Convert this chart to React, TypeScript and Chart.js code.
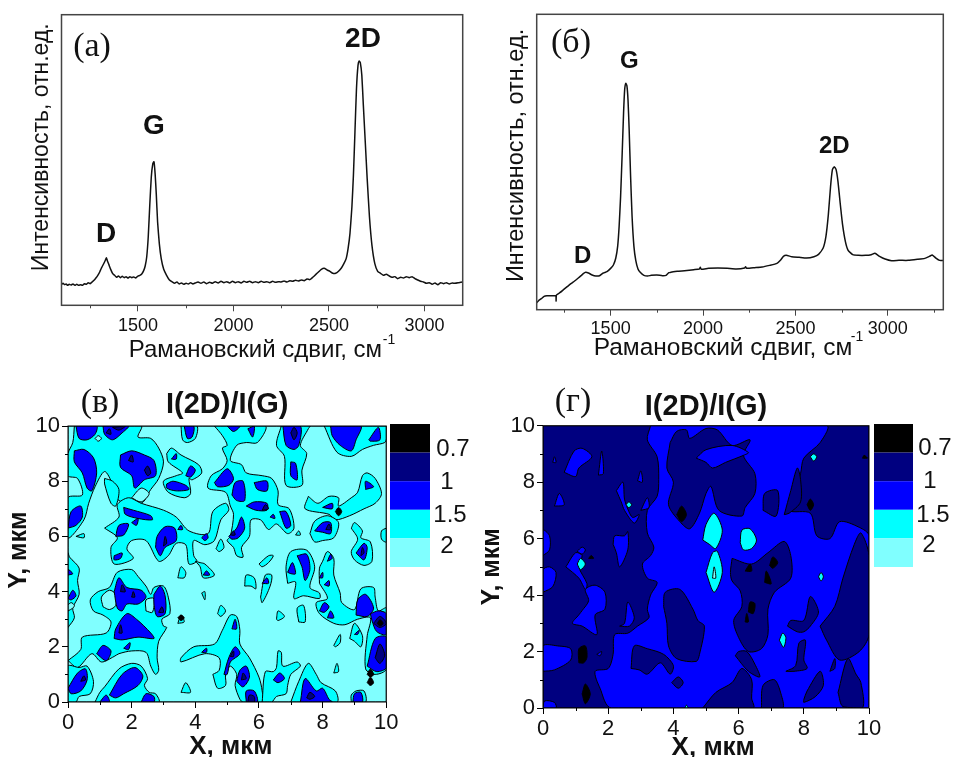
import React, { useEffect, useRef } from "react";
import { Chart, registerables } from "chart.js";

Chart.register(...registerables);

type Pt = [number, number];
const SANS = "'Liberation Sans', Arial, sans-serif";
const SERIF = "'Liberation Serif', 'Times New Roman', serif";

// ---------- spectra: [Raman shift, intensity] ----------
const spectrumA: Pt[] = [
  [1100,63],[1108,66],[1116,62],[1124,64],[1132,60],[1140,63],[1150,61],[1160,64],[1170,60],[1180,63],[1190,60],[1200,62],[1210,60],[1220,65],[1230,63],[1240,68],[1250,65],[1260,70],[1270,75],[1280,82],[1290,90],[1300,100],[1310,113],[1320,124],[1330,136],[1335,143],[1340,134],[1348,122],[1358,107],[1368,95],[1378,90],[1388,84],[1398,88],[1408,83],[1418,87],[1428,83],[1438,86],[1448,82],[1458,86],[1468,83],[1478,85],[1488,82],[1498,87],[1510,90],[1520,94],[1530,104],[1538,118],[1546,145],[1554,205],[1562,300],[1570,385],[1578,425],[1584,431],[1590,395],[1596,335],[1603,250],[1612,185],[1622,140],[1635,108],[1650,90],[1665,76],[1680,70],[1692,66],[1704,70],[1716,64],[1728,67],[1740,63],[1752,66],[1764,64],[1776,68],[1788,64],[1800,67],[1815,70],[1830,66],[1845,70],[1860,65],[1875,69],[1890,66],[1905,71],[1920,67],[1935,72],[1950,68],[1965,71],[1980,67],[1995,72],[2010,68],[2025,71],[2040,67],[2055,72],[2070,69],[2085,72],[2100,68],[2115,71],[2130,68],[2145,72],[2160,69],[2175,71],[2190,68],[2205,72],[2220,69],[2235,71],[2250,70],[2265,73],[2280,70],[2295,74],[2310,72],[2325,75],[2340,73],[2355,76],[2370,74],[2385,79],[2400,77],[2415,84],[2430,92],[2445,100],[2460,108],[2475,111],[2490,106],[2505,102],[2520,96],[2535,96],[2550,102],[2565,112],[2578,125],[2590,140],[2600,170],[2610,216],[2620,295],[2628,390],[2636,520],[2644,650],[2652,720],[2658,733],[2664,728],[2672,690],[2680,600],[2690,490],[2700,380],[2712,265],[2725,180],[2740,125],[2755,102],[2770,96],[2785,90],[2800,93],[2815,88],[2830,84],[2845,86],[2860,80],[2875,84],[2890,82],[2905,86],[2920,83],[2935,86],[2950,80],[2965,76],[2980,72],[2995,70],[3010,66],[3025,68],[3040,63],[3055,67],[3070,62],[3085,68],[3100,65],[3115,68],[3130,64],[3145,67],[3160,66],[3180,68],[3200,70],
];
const spectrumB: Pt[] = [
  [1100,21],[1110,27],[1125,33],[1140,40],[1155,42],[1175,42],[1195,42],[1204,42],[1205,26],[1207,44],[1225,51],[1245,60],[1265,69],[1285,78],[1305,86],[1325,95],[1340,102],[1352,108],[1365,112],[1380,110],[1400,104],[1420,101],[1440,102],[1460,110],[1480,114],[1500,124],[1515,134],[1528,155],[1538,190],[1546,250],[1554,340],[1562,460],[1570,590],[1576,660],[1582,679],[1588,672],[1594,630],[1600,545],[1608,400],[1616,280],[1626,190],[1636,148],[1648,122],[1660,112],[1680,103],[1700,101],[1720,103],[1750,104],[1780,102],[1800,103],[1815,111],[1825,112],[1860,115],[1900,117],[1950,120],[1980,122],[1985,127],[1990,121],[2030,124],[2080,125],[2130,124],[2180,122],[2225,125],[2230,129],[2236,124],[2280,126],[2320,128],[2360,133],[2400,139],[2420,149],[2435,160],[2450,163],[2480,159],[2520,157],[2560,155],[2600,159],[2625,166],[2650,185],[2665,220],[2678,285],[2690,370],[2700,420],[2710,429],[2720,420],[2730,385],[2742,320],[2755,255],[2770,205],[2785,178],[2810,165],[2840,163],[2880,163],[2910,165],[2930,169],[2955,160],[2985,152],[3020,147],[3060,148],[3110,148],[3160,151],[3200,154],[3225,160],[3240,164],[3260,155],[3280,148],[3300,148],
];

const ramanTicks = [1500, 2000, 2500, 3000];
const mapTicks = [0, 2, 4, 6, 8, 10];
const minorRaman = [1250, 1750, 2250, 2750];
const minorMap = [1, 3, 5, 7, 9];

// ---------- contour regions, panel "в" (x, y in µm) ----------
const cyanV: Pt[][] = [
  [[0.2,10],[2.3,10],[2.2,9.6],[2.6,9.55],[2.85,9.2],[3,8.7],[2.85,8.1],[2.6,7.7],[2.3,7.2],[1.6,7.3],[1.4,7.9],[1.15,8.35],[0.85,7.8],[0.65,7.2],[0.5,6.6],[0,5.95],[0,7.4],[0.45,7.5],[0.3,8.1],[0,8.2],[0,9],[0.15,9.4]],
  [[1.15,6.3],[1.6,6.7],[1.55,7.15],[1.9,7.4],[2.3,7.2],[3,6.95],[3.4,6.7],[3.8,6.2],[4.4,6.1],[4.55,6.9],[4.95,7.2],[5.05,6.95],[4.8,6.6],[4.6,5.85],[4.3,5.7],[3.95,5.85],[3.95,5.3],[4.05,5.1],[3.8,5],[3.7,5.7],[3.4,5.75],[3.15,5.3],[2.85,5.1],[2.45,5.85],[2,5.85],[1.85,5.55],[2.05,5.2],[1.45,5],[1.35,5.6],[1.55,5.95]],
  [[0,1.5],[0.4,1.9],[0.45,2.35],[1.2,2.5],[1.35,2.9],[1.1,3.15],[0.8,3.3],[0.7,3.7],[0.95,4],[1.3,4.15],[1.55,4.7],[2,4.8],[2.2,4.55],[2.45,4.2],[2.6,3.9],[2.7,4.15],[3,4.2],[3.15,3.8],[3.2,3.2],[2.95,3],[3,2.75],[3.1,2.7],[2.85,2.2],[2.8,1.6],[2.85,1.15],[2.75,1],[2.6,1.3],[2.45,1.8],[2,1.85],[1.6,1.75],[1.45,1.65],[1.05,1.45],[0.75,1.75],[0.3,1.25]],
  [[0,2.7],[0.2,3.05],[0.15,3.4],[0.35,3.9],[0.3,4.4],[0.35,4.85],[0.05,5.25],[0,5.4]],
  [[0,0],[0,1.3],[0.35,1.25],[0.6,1.3],[0.8,0.75],[0.7,0.3],[0.35,0.2],[0.25,0]],
  [[0.85,0],[1,0.35],[1.15,0.55],[1.6,1.2],[2,1.4],[2.3,1.3],[2.5,0.85],[2.4,0.6],[2.55,0.35],[2.75,0.3],[2.85,0]],
  [[4.6,10],[4.85,9.65],[5,9.3],[4.85,9.2],[5,8.75],[4.85,8.45],[4.5,8.2],[4.4,7.75],[4.95,7.6],[5.1,7.1],[5.2,6.8],[5.1,6],[5,5.85],[5.2,5.6],[5.3,5.3],[5.5,5.25],[5.45,5.6],[5.7,6],[5.75,6.6],[6.05,6.6],[6.3,6.25],[6.55,6.45],[6.9,6.1],[7.1,6.3],[6.95,7],[6.6,7.15],[6.6,7.65],[6.4,8.1],[6.1,8.2],[5.6,8.3],[5.45,8.6],[5.1,8.75],[5.3,9.3],[5.6,9.4],[5.95,9.4],[6.2,10]],
  [[6.7,10],[6.55,9.3],[6.8,8.9],[6.85,7.85],[7.35,7.85],[7.35,8.4],[7.5,9],[7.3,9.3],[7.55,9.9],[7.6,10]],
  [[8.05,10],[8.45,9.05],[8.9,8.9],[9.25,9.15],[9.6,9.3],[9.95,9.4],[10,9.55],[10,10]],
  [[7.55,7.45],[7.45,7],[8.2,6.8],[8.4,6.6],[8.85,6.75],[9.3,7],[9.65,7.2],[9.85,7.55],[9.65,8.1],[9.4,8.3],[9.25,8.2],[9.1,7.6],[8.9,7.4],[8.5,7.1],[8.5,7.4],[8.2,7.45],[7.85,7.2]],
  [[7.6,6.1],[7.75,6.55],[8.15,6.75],[8.5,6.5],[8.35,5.95],[8,5.85],[7.75,5.8]],
  [[8.9,6.3],[9,6.5],[9.25,6.2],[9.2,5.95],[9.5,5.8],[9.55,5.1],[9.3,4.95],[9,5.15],[8.9,5.45],[9.1,5.9]],
  [[6.9,4.3],[6.85,4.9],[7,5.45],[7.5,5.5],[7.75,4.9],[7.6,4.15],[7.9,3.95],[7.9,3.75],[7.4,3.85],[7.1,3.75],[7.15,4.35]],
  [[7.9,4.3],[7.9,4.85],[8,5.1],[8.15,5.45],[8.35,5.2],[8.35,4.6],[8.55,3.95],[8.6,3.6],[9,3.35],[9.2,4.1],[9.6,4.15],[9.65,3.8],[9.75,3.3],[10,3.4],[10,1.2],[9.65,1],[9.35,1.2],[9.4,2.4],[9.5,3.05],[9.1,3],[8.7,2.8],[8.35,2.85],[7.9,3.2],[7.8,3.6],[8.15,3.75]],
  [[4.55,1],[4.7,0.5],[4.95,0.6],[4.95,1],[5.1,1.3],[5.3,1],[5.25,0.6],[5.4,0.1],[5.5,0],[6.1,0],[6.1,0.4],[6,0.9],[5.7,1.6],[5.4,2.1],[5.4,2.6],[5.3,3.1],[5.1,3.15],[4.85,2.6],[4.6,2.1],[3.95,2],[3.55,1.6],[3.55,1.45],[4.3,1.75],[4.75,1.6],[4.75,1.15]],
  [[6.1,0],[6.2,1.1],[6.45,1.1],[6.55,1.25],[6.6,1.85],[6.7,1.8],[6.75,1.3],[7.2,1.45],[7.3,1.3],[7,1],[6.9,0.6],[6.85,0.3],[6.55,0.2],[6.4,0]],
  [[7,0],[7.25,0.75],[7.55,1.4],[7.8,1],[7.95,0.7],[8.4,0.4],[8.45,0]],
  [[8.9,0],[8.9,0.25],[9.05,0.4],[9.3,0.4],[9.35,0]],
  [[5.55,4.2],[5.6,4.6],[5.85,4.5],[5.9,4.1],[5.75,4.2]],
  [[6.05,3.8],[6.2,4.6],[6.4,4.6],[6.35,4.2],[6.1,3.6]],
  [[6,5],[6.3,5.3],[6.45,5.3],[6.3,5.05],[6.1,4.9]],
  [[4.2,3.95],[4.3,4],[4.3,3.7]],
  [[4.7,3.2],[4.8,3.5],[4.95,3.3],[4.8,3.1]],
  [[6.55,3],[6.6,3.3],[6.8,3.1],[6.6,2.95]],
  [[7.25,2.9],[7.2,3.4],[7.4,3.5],[7.45,2.9]],
  [[8.85,2.3],[9,2.85],[9.25,2.4],[9.2,2],[9,2.2]],
  [[8.35,2.05],[8.55,2.45],[8.55,2.15],[8.4,2]],
  [[8.35,1.05],[8.45,1.4],[8.5,1.1]],
  [[3.55,0.35],[3.7,0.7],[3.85,0.35]],
  [[3.45,2.85],[3.55,3.15],[3.65,2.9]],
  [[4.65,5.55],[4.8,5.9],[4.9,5.6],[4.75,5.45]],
  [[7.15,6.05],[7.25,6.2],[7.3,6.05]],
  [[0.25,6],[0.5,6.1],[0.5,5.95]],
  [[3.1,9],[3.25,9.2],[3.55,8.95],[4.1,8.6],[4.2,8.3],[3.9,8.05],[3.8,8.1],[3.85,7.55],[3.65,7.4],[3.15,7.6],[3,8],[3.4,8.2],[3.6,8.3],[3.15,8.7]],
  [[3.55,10],[3.6,9.5],[3.75,9.4],[4,9.55],[4.05,10]],
  [[1.15,8.1],[1.15,7.9],[1.35,7.2],[1.5,7.1],[1.6,7.7],[1.4,8]],
  [[3.45,4.5],[3.55,4.9],[3.7,4.7],[3.65,4.5]],
  [[4,5.1],[4.15,5.05],[4.3,5],[4.6,4.6],[4.25,4.5],[4.15,4.9]],
  [[10,6.3],[9.85,6.2],[9.85,5.9],[10,5.8]],
];
const holesV: Pt[][] = [
  [[1.1,3.45],[1.05,3.8],[1.3,4.05],[1.5,3.9],[1.5,3.5],[1.3,3.35]],
  [[2.45,3.3],[2.45,3.7],[2.7,3.75],[2.65,3.25]],
  [[2,7.4],[2.3,7.75],[2.55,7.55],[2.3,7.25]],
  [[0,3.3],[0.15,3.4],[0.2,3.5],[0.1,3.6],[0,3.5]],
  [[0.85,9.55],[0.95,9.65],[1.05,9.55],[0.95,9.45]],
];
const blueV: Pt[][] = [
  [[0.25,10],[0.9,10],[0.85,9.7],[0.6,9.5],[0.35,9.55]],
  [[1.1,10],[1.9,10],[1.7,9.75],[1.4,9.5],[1.15,9.7]],
  [[0.2,9.1],[0.5,9.15],[0.8,8.85],[0.9,8.3],[0.75,7.65],[0.6,7.75],[0.45,8.3],[0.2,8.7]],
  [[1.65,8.95],[2,9.1],[2.4,8.95],[2.7,8.75],[2.75,8.2],[2.4,8.05],[2.1,7.75],[2,8.2],[1.65,8.5]],
  [[0,6.3],[0.1,6.9],[0.4,7.1],[0.45,6.7],[0.25,6.4]],
  [[1.75,7.05],[2.05,6.95],[2.6,6.75],[2.65,6.6],[2.2,6.65],[1.8,6.8]],
  [[1.5,6],[1.6,6.4],[1.9,6.45],[1.75,6.05]],
  [[2,6.5],[2.2,6.65],[2.15,6.4]],
  [[1.45,5.3],[1.7,5.4],[1.65,5.2],[1.45,5.15]],
  [[2.75,5.6],[2.8,6],[3.05,6.35],[3.35,6.3],[3.4,5.85],[3.05,5.6],[2.9,5.3]],
  [[3.45,6.25],[3.55,6.4],[3.6,6.25]],
  [[4.2,5.95],[4.35,6.1],[4.4,5.95],[4.3,5.85]],
  [[3.65,10],[3.95,10],[3.9,9.6],[3.75,9.55]],
  [[3.25,8.8],[3.4,9],[3.4,8.8]],
  [[3.7,8.2],[3.85,8.55],[4,8.4],[3.85,8.15]],
  [[3.1,7.9],[3.3,8],[3.7,7.85],[3.8,7.7],[3.4,7.65],[3.1,7.75]],
  [[4.6,7.95],[5,8.45],[5.2,8.1],[5.05,7.85],[4.7,7.8]],
  [[5.15,7.5],[5.25,7.95],[5.5,8],[5.55,7.3],[5.3,7.3]],
  [[5.85,7.95],[6.25,8],[6.25,7.65],[5.95,7.7]],
  [[5.6,7.1],[5.85,7.25],[6.25,7.2],[6.25,6.95],[5.9,6.95]],
  [[6.35,6.7],[6.45,6.8],[6.5,6.65]],
  [[6.65,6.9],[6.85,6.9],[7,6.4],[6.85,6.3]],
  [[5.05,6],[5.3,6.3],[5.45,6.7],[5.55,6.3],[5.35,5.95],[5.15,5.9]],
  [[6.75,10],[7.3,10],[7.25,9.3],[7.1,9.15],[6.85,9.3]],
  [[7,8.7],[7.15,8.65],[7.2,8.05],[7,8.2]],
  [[8.25,10],[9.2,10],[9.05,9.5],[8.9,9.1],[8.55,9.3],[8.3,9.65]],
  [[9.45,9.5],[9.75,9.95],[9.8,9.5],[9.5,9.45]],
  [[9.35,7.7],[9.6,7.8],[9.35,8]],
  [[8,7.05],[8.3,7.2],[8.3,7]],
  [[7.75,6.2],[8,6.5],[8.25,6.5],[8.25,6.1],[8,6.15]],
  [[9.05,5.4],[9.3,5.75],[9.4,5.6],[9.3,5.15]],
  [[8.15,5.1],[8.25,5.35],[8.3,5.2]],
  [[7.2,5.3],[7.5,5.35],[7.6,4.8],[7.45,4.4],[7.35,4.9]],
  [[6.9,4.7],[7.05,5.05],[7.15,4.65],[7,4.65]],
  [[0,3.75],[0.15,4.05],[0.25,3.85],[0.1,3.7]],
  [[0,4.6],[0.15,4.65],[0,4.8]],
  [[1.45,4],[1.6,4.5],[1.85,4.15],[2.3,4.05],[2.45,3.8],[2.2,3.55],[1.85,3.55],[1.7,3.3],[1.55,3.4]],
  [[2.7,3.9],[2.9,4.2],[3.05,3.85],[3.05,3.2],[2.8,3.1],[2.7,3.55]],
  [[1.45,2.3],[1.5,2.65],[1.85,3.2],[2.15,3],[2.6,2.5],[2.7,2.3],[2.2,2.35],[1.7,2.25]],
  [[1.75,1.95],[1.95,2.15],[1.9,1.9]],
  [[0.9,1.75],[1.2,1.5],[1.35,1.85],[1.1,2.05]],
  [[0,0.5],[0.3,1.05],[0.55,1.2],[0.6,0.8],[0.4,0.4],[0.1,0.3]],
  [[1.3,0.25],[1.7,1],[2.1,1.25],[2.35,0.95],[2.2,0.6],[1.75,0.3],[1.5,0.15]],
  [[1,0],[1.2,0.25],[1.3,0]],
  [[2.3,0],[2.45,0.3],[2.7,0.2],[2.7,0]],
  [[4.25,4.6],[4.35,4.75],[4.45,4.6]],
  [[6.1,4.3],[6.25,4.5],[6.3,4.3]],
  [[5.15,2.65],[5.25,3],[5.3,2.65]],
  [[4.2,1.8],[4.35,1.95],[4.35,1.8]],
  [[4.9,1],[5.05,1.6],[5.25,2],[5.4,1.75],[5.1,1.45],[5,1]],
  [[5.3,0.75],[5.4,1.15],[5.6,1.3],[5.7,0.9],[5.5,0.55]],
  [[5.6,0],[5.6,0.4],[5.85,0.4],[5.95,0]],
  [[6.45,0.8],[6.65,1.05],[6.8,0.85],[6.6,0.7]],
  [[7.3,0],[7.45,0.85],[7.8,0.4],[8,0.5],[8.2,0.1],[8.3,0]],
  [[8.95,0],[9,0.3],[9.2,0.35],[9.25,0]],
  [[9.05,3.15],[9.1,3.7],[9.35,3.9],[9.6,3.4],[9.4,3.1]],
  [[9.5,3.2],[9.75,3.3],[10,3.2],[10,2.45],[9.7,2.55],[9.55,2.95]],
  [[9.4,1.3],[9.65,2.3],[10,2.35],[10,1.25],[9.7,1.1]],
  [[7.9,3.3],[8.05,3.6],[8.2,3.45],[8.05,3.25]],
  [[8.15,3.05],[8.25,3.3],[8.35,3.05]],
  [[7.9,4.5],[8,4.7],[8,4.5]],
  [[8.05,4.25],[8.2,4.4],[8.2,4.2]],
  [[9,2.45],[9.15,2.6],[9.1,2.45]],
  [[5,10],[5.4,10],[5.2,9.8]],
  [[5.65,9.9],[5.85,10],[5.8,9.6]],
];
const navyV: Pt[][] = [
  [[1.9,8.75],[2,8.95],[2.05,8.7]],
  [[2.4,8.4],[2.5,8.55],[2.6,8.3],[2.5,8.2]],
  [[1.65,4],[1.7,4.25],[1.8,4]],
  [[2,3.8],[2.05,4],[2.1,3.8]],
  [[1.6,2.5],[1.65,2.8],[1.7,2.5]],
  [[2.85,3.25],[2.95,3.45],[3,3.25]],
  [[0.4,0.75],[0.5,0.95],[0.55,0.8]],
  [[3,5.65],[3.05,6],[3.1,5.75]],
  [[5.1,6.05],[5.2,6.2],[5.25,6.05]],
  [[6.1,6.95],[6.2,7.15],[6.3,7]],
  [[7,9.75],[7.1,9.95],[7.2,9.75],[7.1,9.5]],
  [[9.6,2.85],[9.8,3.1],[10,2.85],[9.8,2.7]],
  [[9.65,1.6],[9.8,2.1],[9.95,1.7],[9.8,1.4]],
  [[5.45,0.8],[5.5,1.05],[5.6,0.85]],
  [[5.65,0],[5.7,0.25],[5.85,0.2],[5.85,0]],
  [[7.5,0.15],[7.6,0.35],[7.75,0.2],[7.6,0.1]],
  [[5.1,1.65],[5.2,1.85],[5.2,1.65]],
  [[9.2,5.3],[9.25,5.6],[9.3,5.4]],
  [[8.1,6.25],[8.2,6.45],[8.25,6.25]],
  [[1.2,9.75],[1.3,9.9],[1.35,9.7]],
  [[1.4,9.95],[1.8,10],[1.6,9.85]],
];
const blackV: Pt[][] = [
  [[3.45,3.05],[3.55,3.15],[3.65,3.05],[3.55,2.95]],
  [[8.4,6.9],[8.5,7.05],[8.6,6.9],[8.5,6.75]],
  [[9.4,0.7],[9.5,0.9],[9.6,0.7],[9.5,0.6]],
  [[9.4,1],[9.5,1.2],[9.6,1],[9.5,0.9]],
  [[9.72,2.85],[9.8,2.98],[9.9,2.85],[9.8,2.75]],
];

// ---------- contour regions, panel "г" ----------
const blueG: Pt[][] = [
  [[3.3,10],[8.7,10],[8.5,9.4],[8,8.85],[7.9,8.3],[7.7,7.6],[7.55,7],[8.2,6.9],[8.4,6.1],[8.8,6],[9.1,6.6],[9.7,6.4],[10,6.1],[10,0],[2.1,0],[1.75,0.7],[1.6,1.3],[2,1.4],[2.15,1.9],[2.2,2.6],[2.6,2.65],[2.9,2.9],[3.25,3.2],[3.2,3.5],[3.3,4],[3.5,4.45],[3.2,4.6],[3.05,5.1],[3.3,5.4],[3.4,5.7],[3.2,6.2],[3.2,7],[3.5,7.5],[3.55,8.1],[3.5,8.9],[3.2,9.5]],
  [[0,5.4],[0.2,5.6],[0.2,6.1],[0,6.3]],
  [[0,4.1],[0.3,4.3],[0.4,4.8],[0.2,5],[0,4.9]],
  [[0.65,8.35],[0.95,9.1],[1.2,9.2],[1.5,8.9],[1.1,8.5],[1,8.2]],
  [[1.7,8.25],[1.8,9.1],[1.85,8.3]],
  [[0.3,8.7],[0.35,8.9],[0.4,8.7]],
  [[0.35,7.15],[0.5,7.6],[0.65,7.2]],
  [[2.25,7.7],[2.45,8],[2.5,7.4],[2.6,7.05],[2.75,6.75],[2.95,6.85],[2.8,6.55],[2.5,7],[2.4,7.3]],
  [[2.9,8.05],[3,8.4],[3.05,8]],
  [[3,7],[3.2,7.45],[3.25,7.1]],
  [[2.15,5.8],[2.2,6.1],[2.5,6.1],[2.6,6.25],[2.6,5.6],[2.35,5],[2.25,5.5]],
  [[0.7,5],[1,5.5],[1.2,5.4],[1.1,5],[1.35,4.4],[1.3,4.2],[1.1,4.6]],
  [[1.05,5.55],[1.2,5.7],[1.3,5.6],[1.2,5.45]],
  [[1.2,3.45],[1.4,3.8],[1.3,4.2],[1.6,4.35],[1.9,4.1],[1.9,3.5],[1.6,3.3],[1.65,2.6],[1.2,2.9],[0.9,3],[1.1,3.3]],
  [[0,1.3],[0.35,1.35],[0.85,1.7],[0.85,2.1],[0.45,2.2],[0,2.2]],
  [[2.35,2.9],[2.5,3],[2.6,3.75],[2.8,3.2],[2.65,2.9]],
  [[0,0],[0.05,0.25],[0.35,0.2],[0.4,0]],
  [[1.65,1.9],[1.8,2],[1.75,1.85]],
];
const navyG: Pt[][] = [
  [[3.7,3.6],[3.75,4.1],[4.2,4.2],[4.6,3.5],[4.75,3.1],[4.95,2.9],[4.8,1.9],[4.7,1.65],[4.1,1.75],[3.85,2.2],[3.8,3]],
  [[2.7,1.4],[2.8,2.2],[3.2,2.1],[3.7,1.9],[4,1.5],[3.9,1.2],[3.6,1.6],[3.2,1.2],[2.95,1.35]],
  [[5.8,5.3],[6.4,5.1],[6.9,5.5],[7.4,5.9],[7.6,5.4],[7.6,4.6],[7.1,4.1],[6.9,3.5],[6.9,2.6],[6.7,2.1],[6.3,2],[6,2.5],[5.85,3.1],[6.1,3.6],[6.05,4.15],[5.8,4.5],[5.75,4.8]],
  [[7.5,2.9],[7.6,3.1],[8,3.1],[8.2,3.95],[8.45,3.4],[8.2,2.9],[8,2.7],[7.8,2.7]],
  [[7.45,1.3],[7.75,1.5],[7.85,2.3],[8.05,2.4],[8,1.7],[8.1,1.4],[7.7,1.3]],
  [[8.5,2.9],[8.95,3.6],[9.2,4.6],[9.55,5.8],[9.75,6.2],[10,5.4],[10,2.6],[9.7,2],[9.1,1.7],[8.7,2.4]],
  [[8,0.3],[8.1,0.6],[8.5,1.3],[8.6,0.8],[8.35,0.4],[8,0.2]],
  [[9.05,0.55],[9.35,1.75],[9.6,1.2],[9.75,0.9],[9.8,0],[9.2,0.05]],
  [[8.8,1.3],[8.95,1.75],[8.95,1.4]],
  [[4.9,0],[5.3,0.55],[5.8,0.9],[6.1,1.4],[6.4,1],[6.4,0.35],[6.45,0]],
  [[6.7,0],[6.75,0.8],[7.1,1],[7.3,0.5],[7.35,0]],
  [[3.9,9.4],[3.8,8.5],[4,8],[3.85,7.2],[4.2,6.6],[4.5,6.35],[4.8,6.9],[5,7.6],[5.15,7.85],[5.4,7],[6.1,6.8],[6.2,7.1],[6.5,7.6],[6.5,8.3],[6.15,8.95],[6.35,9.5],[5.8,9.3],[5.35,9.85],[5,9.9],[4.5,9.55],[4.4,9.85],[4.1,9.8]],
  [[6.75,7],[6.8,7.6],[7.2,7.7],[7.15,6.8]],
  [[7.4,6.85],[7.6,7.7],[7.8,8.5],[7.9,8.1],[7.9,7.3],[7.55,6.9]],
  [[5.9,1.85],[6,2],[6.25,2],[6.5,1.55],[6.65,1.1],[6.3,1.3]],
  [[3.95,0.9],[4.15,1.1],[4.3,0.9],[4.15,0.7]],
];
const blueInsetG: Pt[][] = [
  [[4.7,8.85],[5,9.15],[5.8,9.3],[6.3,9.05],[6.15,8.95],[5.6,8.7],[5.2,8.5],[5,8.7]],
];
const cyanG: Pt[][] = [
  [[4.9,5.95],[5,6.5],[5.25,6.9],[5.5,6.3],[5.3,5.65],[5.1,5.8]],
  [[5,4.8],[5.2,5.5],[5.35,5.55],[5.5,4.8],[5.25,4.1]],
  [[6.05,5.85],[6.1,6.3],[6.35,6.35],[6.55,5.95],[6.4,5.65],[6.15,5.6]],
  [[8.2,8.9],[8.3,9],[8.4,8.9],[8.3,8.75]],
  [[7.25,2.4],[7.35,2.65],[7.45,2.5],[7.38,2.15]],
  [[1.05,5.1],[1.15,5.3],[1.3,5.1],[1.15,4.9]],
  [[2.55,7.2],[2.63,7.3],[2.72,7.2],[2.63,7.1]],
  [[8.45,4.65],[8.53,4.8],[8.6,4.65],[8.53,4.5]],
  [[4.35,0],[4.4,0.1],[4.45,0]],
];
const lightG: Pt[][] = [[[5.2,4.6],[5.25,5],[5.3,4.6]]];
const blackG: Pt[][] = [
  [[4.1,6.85],[4.25,7.15],[4.4,6.85],[4.25,6.6]],
  [[1.1,1.6],[1.1,2.1],[1.3,2.2],[1.35,1.8],[1.25,1.6]],
  [[1.2,0.5],[1.3,0.85],[1.45,0.5],[1.3,0.15]],
  [[8.1,7.2],[8.2,7.4],[8.3,7.2],[8.2,7]],
  [[6.3,3.4],[6.35,3.75],[6.5,3.7],[6.45,3.35]],
  [[6.2,3.05],[6.25,3.35],[6.3,3.05]],
  [[6.95,5.05],[7.05,5.35],[7.2,5.15],[7.05,4.95]],
  [[6.8,4.45],[6.85,4.85],[7,4.4]],
  [[6.2,4.85],[6.35,5.1],[6.4,4.85]],
  [[1.4,5.3],[1.48,5.4],[1.55,5.3]],
  [[9.8,8.85],[9.85,8.95],[9.95,8.85]],
];
const fullDomain: Pt[] = [[0,0],[10,0],[10,10],[0,10]];

// ---------- colour scale ----------
const levelColors = ["#000000", "#000080", "#0000FF", "#00FFFF", "#80FFFF"];
const levelLabels = ["0.7", "1", "1.5", "2"];

type Box = { x: number; y: number; w: number; h: number };
type Txt = { text: string; x: number; y: number; font: string; color?: string; data?: boolean };

const regionDatasets = (layers: [Pt[][], string][]) => {
  const out: any[] = [];
  layers.forEach(([polys, color]) =>
    polys.forEach((p) =>
      out.push({
        data: [...p, p[0]].map(([x, y]) => ({ x, y })),
        showLine: true,
        fill: "shape",
        backgroundColor: color,
        borderColor: "#000",
        borderWidth: 1,
        pointRadius: 0,
        tension: 0.3,
      })
    )
  );
  return out.reverse(); // first dataset is painted last
};

function makeChart(canvas: HTMLCanvasElement, cfg: any) {
  const { box, plot, xMin, xMax, yMin, yMax, xTicks, minorX, minorY, yTicks, datasets, texts, bar, frame, xTitle, yTitle, title, tickFont, tickLen, xPad } = cfg;
  const fix = (s: any, prop: string, v: number) => {
    s[prop] = v;
    s.paddingLeft = s.paddingRight = s.paddingTop = s.paddingBottom = 0;
  };
  const overlay = {
    id: "overlay",
    afterDraw(c: any) {
      const g = c.ctx;
      const { left, right, top, bottom } = c.chartArea;
      g.save();
      g.strokeStyle = frame.color;
      g.lineWidth = frame.width;
      g.strokeRect(left, top, right - left, bottom - top);
      g.lineWidth = 1;
      minorX.forEach((v: number) => {
        const p = Math.round(c.scales.x.getPixelForValue(v)) + 0.5;
        g.beginPath(); g.moveTo(p, bottom); g.lineTo(p, bottom + tickLen / 2); g.stroke();
      });
      (minorY || []).forEach((v: number) => {
        const p = Math.round(c.scales.y.getPixelForValue(v)) + 0.5;
        g.beginPath(); g.moveTo(left, p); g.lineTo(left - tickLen / 2, p); g.stroke();
      });
      g.textAlign = "center";
      g.textBaseline = "middle";
      (texts as Txt[]).forEach((t) => {
        g.font = t.font;
        g.fillStyle = t.color || "#111";
        const px = t.data ? c.scales.x.getPixelForValue(t.x) : t.x - box.x;
        const py = t.data ? c.scales.y.getPixelForValue(t.y) : t.y - box.y;
        g.fillText(t.text, px, py);
      });
      if (bar) {
        const n = levelColors.length;
        const step = (bar.bottom - bar.top) / n;
        levelColors.forEach((col, i) => {
          g.fillStyle = col;
          g.fillRect(bar.left - box.x, bar.top - box.y + i * step, bar.right - bar.left, step);
        });
        g.fillStyle = "#111";
        g.font = `24px ${SANS}`;
        levelLabels.forEach((l, i) => g.fillText(l, bar.labelX[i] - box.x, bar.labelY[i] - box.y));
      }
      g.restore();
    },
  };
  const titleHeight = title ? title.size * 1.2 : 0;
  const titlePadTop = title ? title.cy - box.y - titleHeight / 2 : 0;
  const titlePadBottom = title ? plot.top - title.cy - titleHeight / 2 : 0;
  const useTicks = (list: number[]) => (s: any) => {
    s.ticks = list.map((value) => ({ value }));
  };
  return new Chart(canvas, {
    type: "scatter",
    data: { datasets },
    plugins: [overlay],
    options: {
      responsive: false,
      animation: false,
      events: [],
      layout: {
        padding: {
          left: 0,
          top: title ? 0 : plot.top - box.y,
          right: box.x + box.w - plot.right,
          bottom: 0,
        },
      },
      plugins: {
        legend: { display: false },
        tooltip: { enabled: false },
        filler: { drawTime: "beforeDatasetDraw" },
        title: title
          ? {
              display: true,
              text: "I(2D)/I(G)",
              fullSize: false,
              color: "#111",
              font: { family: SANS, size: title.size, weight: "bold" },
              padding: { top: titlePadTop, bottom: titlePadBottom },
            }
          : { display: false },
      },
      scales: {
        x: {
          type: "linear",
          min: xMin,
          max: xMax,
          afterFit: (s: any) => fix(s, "height", box.y + box.h - plot.bottom),
          afterBuildTicks: useTicks(xTicks),
          ticks: {
            autoSkip: false,
            maxRotation: 0,
            color: "#111",
            padding: xPad,
            font: { family: SANS, size: tickFont },
            callback: (v: any) => String(v),
          },
          grid: {
            drawOnChartArea: false,
            tickLength: tickLen,
            tickColor: frame.color,
          },
          border: { display: false },
          title: {
            display: true,
            text: xTitle.text,
            color: "#111",
            font: { family: SANS, size: xTitle.size, weight: xTitle.weight },
            padding: { top: 0, bottom: box.y + box.h - xTitle.cy - (xTitle.size * 1.2) / 2 },
          },
        },
        y: {
          type: "linear",
          min: yMin,
          max: yMax,
          afterFit: (s: any) => fix(s, "width", plot.left - box.x),
          afterBuildTicks: yTicks ? useTicks(yTicks) : undefined,
          ticks: yTicks
            ? { autoSkip: false, color: "#111", padding: 2, font: { family: SANS, size: tickFont }, callback: (v: any) => String(v) }
            : { display: false },
          grid: {
            display: !!yTicks,
            drawOnChartArea: false,
            tickLength: tickLen,
            tickColor: frame.color,
          },
          border: { display: false },
          title: {
            display: true,
            text: yTitle.text,
            color: "#111",
            font: { family: SANS, size: yTitle.size, weight: yTitle.weight },
            padding: { top: yTitle.cx - box.x - (yTitle.size * 1.2) / 2, bottom: 0 },
          },
        },
      },
    } as any,
  });
}

const spectrumSet = (pts: Pt[]) => [
  {
    data: pts.map(([x, y]) => ({ x, y })),
    showLine: true,
    borderColor: "#111",
    borderWidth: 1.5,
    pointRadius: 0,
    tension: 0.15,
  },
];

const panels: any[] = [
  {
    box: { x: 0, y: 0, w: 480, h: 375 },
    plot: { left: 61.5, right: 462.7, top: 14.7, bottom: 305.3 },
    xMin: 1100, xMax: 3200, yMin: 0, yMax: 872, xTicks: ramanTicks, minorX: minorRaman,
    datasets: spectrumSet(spectrumA),
    frame: { color: "#444", width: 1.5 },
    tickFont: 18, tickLen: 6, xPad: 4,
    xTitle: { text: "Рамановский сдвиг, см  ", size: 24, weight: "normal", cy: 350 },
    yTitle: { text: "    Интенсивность, отн.ед.", size: 23, weight: "normal", cx: 42 },
    texts: [
      { text: "(a)", x: 92, y: 47, font: `34px ${SERIF}` },
      { text: "-1", x: 389, y: 340, font: `14px ${SANS}` },
      { text: "2D", x: 2678, y: 798, data: true, font: `bold 28px ${SANS}` },
      { text: "G", x: 1584, y: 538, data: true, font: `bold 28px ${SANS}` },
      { text: "D", x: 1333, y: 213, data: true, font: `bold 28px ${SANS}` },
    ],
  },
  {
    box: { x: 480, y: 0, w: 473, h: 375 },
    plot: { left: 536.7, right: 943.3, top: 14.3, bottom: 309.7 },
    xMin: 1100, xMax: 3300, yMin: 0, yMax: 886, xTicks: ramanTicks, minorX: [...minorRaman, 3250],
    datasets: spectrumSet(spectrumB),
    frame: { color: "#444", width: 1.5 },
    tickFont: 18, tickLen: 6, xPad: 3,
    xTitle: { text: "Рамановский сдвиг, см     ", size: 24.5, weight: "normal", cy: 348 },
    yTitle: { text: "  Интенсивность, отн.ед.", size: 23.5, weight: "normal", cx: 517 },
    texts: [
      { text: "(б)", x: 571, y: 43, font: `34px ${SERIF}` },
      { text: "-1", x: 857, y: 337, font: `14px ${SANS}` },
      { text: "G", x: 1601, y: 746, data: true, font: `bold 24px ${SANS}` },
      { text: "2D", x: 2710, y: 489, data: true, font: `bold 24px ${SANS}` },
      { text: "D", x: 1349, y: 161, data: true, font: `bold 24px ${SANS}` },
    ],
  },
  {
    box: { x: 0, y: 375, w: 475, h: 382 },
    plot: { left: 68, right: 386.3, top: 426, bottom: 702 },
    xMin: 0, xMax: 10, yMin: 0, yMax: 10, xTicks: mapTicks, minorX: minorMap, minorY: minorMap, yTicks: mapTicks,
    datasets: regionDatasets([
      [[fullDomain], levelColors[4]], [cyanV, levelColors[3]], [holesV, levelColors[4]],
      [blueV, levelColors[2]], [navyV, levelColors[1]], [blackV, levelColors[0]],
    ]),
    frame: { color: "#000", width: 1 },
    tickFont: 22, tickLen: 6, xPad: 2,
    title: { size: 29, cy: 405 },
    xTitle: { text: " X, мкм", size: 26, weight: "bold", cy: 747 },
    yTitle: { text: "    Y, мкм", size: 25, weight: "bold", cx: 19 },
    texts: [{ text: "(в)", x: 100, y: 403, font: `34px ${SERIF}` }],
    bar: { left: 390, right: 430, top: 424, bottom: 567, labelX: [453, 447, 450, 447], labelY: [449, 482, 515, 546] },
  },
  {
    box: { x: 475, y: 375, w: 478, h: 382 },
    plot: { left: 543, right: 869, top: 425.7, bottom: 708 },
    xMin: 0, xMax: 10, yMin: 0, yMax: 10, xTicks: mapTicks, minorX: minorMap, minorY: minorMap, yTicks: mapTicks,
    datasets: regionDatasets([
      [[fullDomain], levelColors[1]], [blueG, levelColors[2]], [navyG, levelColors[1]], [blueInsetG, levelColors[2]],
      [cyanG, levelColors[3]], [lightG, levelColors[4]], [blackG, levelColors[0]],
    ]),
    frame: { color: "#000", width: 1 },
    tickFont: 22, tickLen: 6, xPad: 2,
    title: { size: 29, cy: 407 },
    xTitle: { text: "  X, мкм", size: 26, weight: "bold", cy: 748 },
    yTitle: { text: "Y, мкм", size: 25, weight: "bold", cx: 492 },
    texts: [{ text: "(г)", x: 573, y: 402, font: `34px ${SERIF}` }],
    bar: { left: 874, right: 913, top: 424, bottom: 567, labelX: [935, 930, 933, 929], labelY: [448, 481, 515, 545] },
  },
];

function Panel({ cfg }: { cfg: any }) {
  const ref = useRef<HTMLCanvasElement>(null);
  useEffect(() => {
    const chart = makeChart(ref.current!, cfg);
    return () => chart.destroy();
  }, [cfg]);
  const { x, y, w, h } = cfg.box as Box;
  return <canvas ref={ref} width={w} height={h} style={{ position: "absolute", left: x, top: y, width: w, height: h, filter: "blur(0.4px)" }} />;
}

export default function App() {
  return (
    <div style={{ position: "absolute", left: 0, top: 0, width: 953, height: 757, background: "#fff", overflow: "hidden" }}>
      {panels.map((p, i) => (
        <Panel key={i} cfg={p} />
      ))}
    </div>
  );
}
